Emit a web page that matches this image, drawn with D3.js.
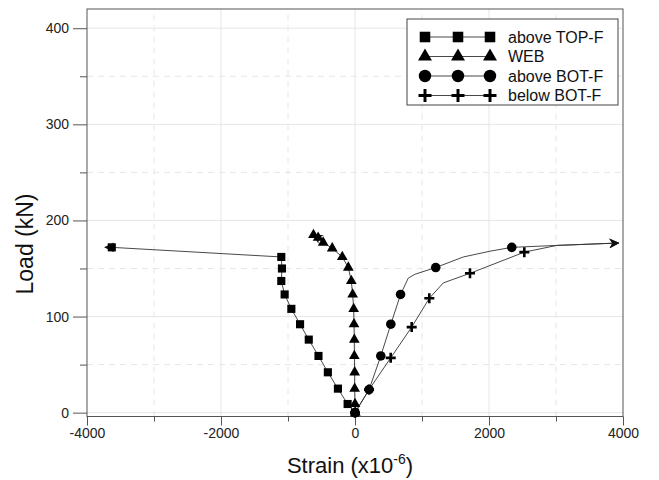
<!DOCTYPE html>
<html>
<head>
<meta charset="utf-8">
<script src="https://cdn.jsdelivr.net/npm/d3@7"></script>
<style>
    body { margin: 0; background: #fff; }
    svg { font-family: "Liberation Sans", Arial, sans-serif; }
    .tickLabel { font-size: 14px; fill: #222; }
    .axisTitle { font-size: 22px; fill: #111; }
    .legendText { font-size: 16px; fill: #111; }
</style>
</head>
<body>
<div id="chart"></div>
<script>
// series: [strain, load], marked points first, unmarked points only shape the line
let seriesNames = ['above TOP-F', 'WEB', 'above BOT-F', 'below BOT-F'];
let seriesSymbols = ['square', 'triangle', 'circle', 'plus'];

let topFlange = [[0, 0], [-110, 9], [-255, 25], [-405, 42], [-545, 59], [-690, 76], [-820, 92],
    [-950, 108], [-1050, 123], [-1100, 137], [-1090, 150], [-1100, 162], [-3630, 172]];
let topFlangeTail = [[-3730, 172]];

let web = [[5, 0], [0, 9], [-5, 25], [-5, 42], [-10, 59], [-10, 76], [-15, 92], [-20, 108],
    [-35, 123], [-55, 137], [-100, 151], [-190, 162], [-340, 171], [-475, 177], [-550, 182], [-620, 185]];
let webTail = [];

let aboveBot = [[0, 0], [210, 24], [385, 59], [535, 92], [680, 123], [1205, 151], [2340, 172]];
let aboveBotLine = [[0, 0], [210, 24], [385, 59], [535, 92], [680, 123], [795, 140], [895, 144],
    [1205, 151], [1617, 162], [2015, 168], [2340, 172], [3010, 174], [3930, 176.5]];

let belowBot = [[0, 0], [210, 24], [533, 57], [846, 89], [1109, 119], [1716, 145], [2527, 167]];
let belowBotLine = [[0, 0], [210, 24], [533, 57], [846, 89], [1109, 119], [1318, 135],
    [1716, 145], [2527, 167], [3010, 174], [3930, 176.5]];

let xMajor = [-4000, -2000, 0, 2000, 4000];
let xMinor = [-3000, -1000, 1000, 3000];
let yMajor = [0, 100, 200, 300, 400];
let yMinor = [50, 150, 250, 350];

let width = 659, height = 480;
let margin = {top: 9, right: 36, bottom: 63.5, left: 87};

let svg = d3.select('#chart').append('svg')
    .attr('width', width)
    .attr('height', height);

let xScale = d3.scaleLinear()
    .domain([-4000, 4000])
    .range([margin.left, width - margin.right]);

let yScale = d3.scaleLinear()
    .domain([-4, 420])
    .range([height - margin.bottom, margin.top]);

let x0 = margin.left, x1 = width - margin.right;
let y0 = height - margin.bottom, y1 = margin.top;

//GRID
let grid = svg.append('g');
grid.selectAll('.vMajor')
    .data(xMajor.slice(1, -1))
    .join('line')
    .attr('x1', d => xScale(d)).attr('x2', d => xScale(d))
    .attr('y1', y0).attr('y2', y1)
    .attr('stroke', '#e6e6e6');
grid.selectAll('.vMinor')
    .data(xMinor)
    .join('line')
    .attr('x1', d => xScale(d)).attr('x2', d => xScale(d))
    .attr('y1', y0).attr('y2', y1)
    .attr('stroke', '#e6e6e6')
    .attr('stroke-dasharray', '6,5');
grid.selectAll('.hMajor')
    .data(yMajor)
    .join('line')
    .attr('x1', x0).attr('x2', x1)
    .attr('y1', d => yScale(d)).attr('y2', d => yScale(d))
    .attr('stroke', '#e6e6e6');
grid.selectAll('.hMinor')
    .data(yMinor)
    .join('line')
    .attr('x1', x0).attr('x2', x1)
    .attr('y1', d => yScale(d)).attr('y2', d => yScale(d))
    .attr('stroke', '#e6e6e6')
    .attr('stroke-dasharray', '6,5');

//FRAME + AXES
svg.append('rect')
    .attr('x', x0).attr('y', y1)
    .attr('width', x1 - x0).attr('height', y0 - y1)
    .attr('fill', 'none')
    .attr('stroke', '#555');

let xAxis = d3.axisBottom(xScale).tickValues(xMajor).tickSize(9).tickFormat(d3.format('d'));
let xAxisMinor = d3.axisBottom(xScale).tickValues(xMinor).tickSize(5).tickFormat('');
let yAxis = d3.axisLeft(yScale).tickValues(yMajor).tickSize(14).tickPadding(4);
let yAxisMinor = d3.axisLeft(yScale).tickValues(yMinor).tickSize(7).tickFormat('');

[[xAxis, 'x'], [xAxisMinor, 'x'], [yAxis, 'y'], [yAxisMinor, 'y']].forEach(a => {
    let g = svg.append('g')
        .attr('transform', a[1] == 'x' ? `translate(0,${y0})` : `translate(${x0},0)`)
        .call(a[0]);
    g.select('.domain').remove();
    g.selectAll('.tick line').attr('stroke', '#555');
    g.selectAll('.tick text')
        .attr('class', 'tickLabel')
        .attr('font-family', null)
        .attr('font-size', null);
});
svg.selectAll('.tickLabel').text(function(){ return d3.select(this).text().replace('−', '-'); });

svg.append('text')
    .attr('class', 'axisTitle')
    .attr('transform', `translate(33, 244) rotate(-90)`)
    .attr('text-anchor', 'middle')
    .style('font-size', '23px')
    .text('Load (kN)');

let xt = svg.append('text')
    .attr('class', 'axisTitle')
    .attr('x', (x0 + x1) / 2 - 5)
    .attr('y', 473)
    .attr('text-anchor', 'middle');
xt.append('tspan').text('Strain (x10');
xt.append('tspan').attr('dy', -9).style('font-size', '14px').text('-6');
xt.append('tspan').attr('dy', 9).text(')');

//ARROW
svg.append('defs').append('marker')
    .attr('id', 'arrow')
    .attr('viewBox', '0 0 10 10')
    .attr('refX', 9).attr('refY', 5)
    .attr('markerWidth', 10).attr('markerHeight', 10)
    .attr('markerUnits', 'userSpaceOnUse')
    .attr('orient', 'auto')
    .append('path')
    .attr('d', 'M0,0 L10,5 L0,10 L3,5 Z')
    .attr('fill', '#111');

//SYMBOLS
let drawSymbol = function(sel, type, k){
    k = k || 1;
    if(type == 'plus'){
        sel.append('path')
            .attr('d', `M${-5 * k},0 H${5 * k} M0,${-5 * k} V${5 * k}`)
            .attr('stroke', '#000')
            .attr('stroke-width', 2.6 * Math.sqrt(k))
            .attr('fill', 'none');
    } else {
        let t = {square: d3.symbolSquare, triangle: d3.symbolTriangle, circle: d3.symbolCircle}[type];
        let size = {square: 66, triangle: 50, circle: 72}[type];
        sel.append('path')
            .attr('d', d3.symbol().type(t).size(size * k * k)())
            .attr('fill', '#000');
    }
}

let line = d3.line()
    .x(d => xScale(d[0]))
    .y(d => yScale(d[1]));

let series = [
    {pts: topFlange, line: topFlange.concat(topFlangeTail)},
    {pts: web, line: web.concat(webTail)},
    {pts: aboveBot, line: aboveBotLine},
    {pts: belowBot, line: belowBotLine}
];

let plot = svg.append('g');
series.forEach((s, i) => {
    plot.append('path')
        .attr('d', line(s.line))
        .attr('fill', 'none')
        .attr('stroke', '#333')
        .attr('stroke-width', 0.9)
        .attr('marker-end', 'url(#arrow)');
});
series.forEach((s, i) => {
    plot.append('g')
        .selectAll('g')
        .data(s.pts)
        .join('g')
        .attr('transform', d => `translate(${xScale(d[0])},${yScale(d[1])})`)
        .each(function(){ drawSymbol(d3.select(this), seriesSymbols[i]); });
});

//LEGEND
let legend = svg.append('g');
legend.append('rect')
    .attr('x', 407).attr('y', 19)
    .attr('width', 211).attr('height', 86)
    .attr('fill', '#fff')
    .attr('stroke', '#444');

let legendRows = legend.selectAll('g')
    .data(seriesNames)
    .join('g')
    .attr('transform', (d, i) => `translate(0, ${37 + i * 19.5})`);

legendRows.append('line')
    .attr('x1', 425).attr('x2', 490)
    .attr('stroke', '#333')
    .attr('stroke-width', 0.9);

legendRows.each(function(d, i){
    let row = d3.select(this);
    [425, 458, 490].forEach(x => {
        drawSymbol(row.append('g').attr('transform', `translate(${x},0)`), seriesSymbols[i], 1.3);
    });
});

legendRows.append('text')
    .attr('class', 'legendText')
    .attr('x', 508)
    .attr('y', 5.5)
    .text(d => d);
</script>
</body>
</html>
